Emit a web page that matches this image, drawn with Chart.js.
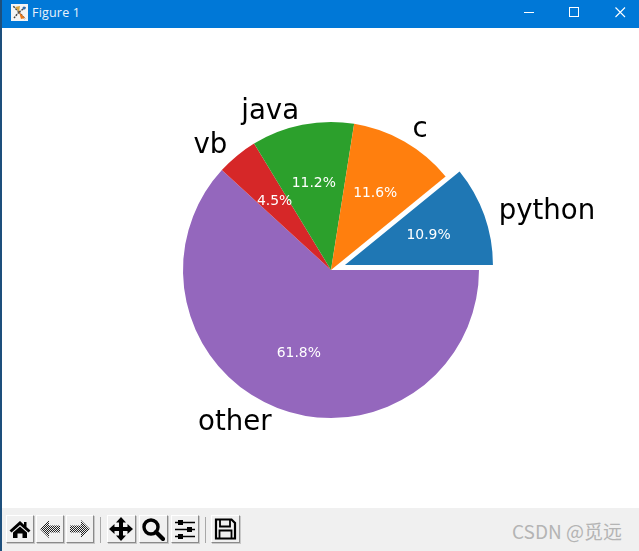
<!DOCTYPE html>
<html><head><meta charset="utf-8">
<script src="https://cdn.jsdelivr.net/npm/chart.js@4"></script>
<style>
html,body{margin:0;padding:0;width:639px;height:551px;overflow:hidden;background:#fff}
.abs{position:absolute}
#strip{left:0;top:0;width:2px;height:551px;background:#1d4f7c}
#title{left:0;top:0;width:639px;height:27.5px;background:#0078d7}
#ttext{left:32px;top:4px;color:#e8f2fb;font:12.5px/18px "Open Sans","Noto Sans",sans-serif;letter-spacing:.2px}
#toolbar{left:2px;top:508px;width:637px;height:43px;background:#f0f0f0}
.btn{position:absolute;top:515px;height:28px;box-sizing:border-box;background:#f0f0f0;border:1px solid;border-color:#fff #8a8a8a #8a8a8a #fff;box-shadow:1px 1px 0 #c8c8c8}
.btn svg{position:absolute;left:1px;top:1px;width:24px;height:24px}
.sep{position:absolute;top:517px;width:1px;height:26px;background:#a8a8a8}
#wm{left:512px;top:518px;color:#b4b4b4;font:19px/26px "Noto Sans CJK SC","Noto Sans",sans-serif;white-space:nowrap}
canvas{position:absolute;left:0;top:0}
</style></head><body>
<div id="title" class="abs"></div>
<svg class="abs" style="left:11px;top:4px" width="17" height="17" viewBox="0 0 17 17">
<rect width="17" height="17" fill="#f4f4f4"/><path d="M8 8L2 2M8 8L15 3M8 8L3 14M8 8L14 15" stroke="#444" stroke-width="1.5" stroke-dasharray="2 1"/><path d="M8 8L14 14L10 15Z" fill="#e8791c"/><path d="M8 8L4 3L9 2Z" fill="#d9a441"/><circle cx="13" cy="4" r="1.5" fill="#2b6cb0"/></svg>
<div id="ttext" class="abs">Figure 1</div>
<svg class="abs" style="left:500px;top:0" width="139" height="28" viewBox="0 0 139 28" fill="none" stroke="#fff">
<path d="M24 12.5H34" stroke-width="1"/><rect x="69.5" y="7.5" width="9" height="9" stroke-width="1"/><path d="M115.5 7.5L125 17M125 7.5L115.5 17" stroke-width="1.1"/></svg>
<div id="strip" class="abs"></div>
<div id="toolbar" class="abs"></div>
<svg width="0" height="0" style="position:absolute"><defs><pattern id="dither" width="2" height="2" patternUnits="userSpaceOnUse"><rect width="1" height="1" fill="#222"/><rect x="1" y="1" width="1" height="1" fill="#222"/></pattern></defs></svg>
<div class="btn" style="left:6px;width:28px"><svg viewBox="0 0 24 24"><path d="M12 4L1.5 13.5L3.5 15.5L12 8L20.5 15.5L22.5 13.5L18.5 10V5H16V7.8Z M5 15.5L12 9.5L19 15.5V21H14.5V16.5H9.5V21H5Z"/></svg></div>
<div class="btn" style="left:36px;width:28px"><svg viewBox="0 0 24 24"><path fill="url(#dither)" d="M11 3L2 12L11 21V15.5H22V8.5H11Z"/></svg></div>
<div class="btn" style="left:66px;width:28px"><svg viewBox="0 0 24 24"><path fill="url(#dither)" d="M13 3L22 12L13 21V15.5H2V8.5H13Z"/></svg></div>
<div class="sep" style="left:100px"></div>
<div class="btn" style="left:107px;width:29px"><svg viewBox="0 0 24 24"><path d="M12 0L17 5.5H14V10H18.5V7L24 12L18.5 17V14H14V18.5H17L12 24L7 18.5H10V14H5.5V17L0 12L5.5 7V10H10V5.5H7Z"/></svg></div>
<div class="btn" style="left:139px;width:29px"><svg viewBox="0 0 24 24"><circle cx="10" cy="10" r="7" fill="none" stroke="#000" stroke-width="3.4"/><path d="M15 15L22 22" stroke="#000" stroke-width="4.2" stroke-linecap="round"/></svg></div>
<div class="btn" style="left:171px;width:28px"><svg viewBox="0 0 24 24"><path d="M2 5.5H22M2 12.5H22M2 19.5H22" stroke="#000" stroke-width="1.6"/><rect x="5" y="3" width="5" height="5"/><rect x="14" y="10" width="5" height="5"/><rect x="5" y="17" width="5" height="5"/></svg></div>
<div class="sep" style="left:205px"></div>
<div class="btn" style="left:211px;width:29px"><svg viewBox="0 0 24 24"><path fill="none" stroke="#000" stroke-width="2.2" d="M3 2.5H18.5L22 6V21.5H3Z"/><path fill="none" stroke="#000" stroke-width="1.8" d="M7 3V9.5H17V3M6.5 21V13.5H18.5V21"/></svg></div>
<div id="wm" class="abs">CSDN @觅远</div>
<canvas id="c" width="639" height="551"></canvas>
<script>
// Clockwise from 3 o'clock, so the slices run the same way round as the reference.
const categories = ['other', 'vb', 'java', 'c', 'python'];
const shares = [61.8, 4.5, 11.2, 11.6, 10.9];
const sliceColors = ['#9467bd', '#d62728', '#2ca02c', '#ff7f0e', '#1f77b4'];
const explode = [0, 0, 0, 0, 14.8];

const FONT = '"DejaVu Sans"';
function centeredBaseline(ctx) {
  // Vertical centre of a text line measured as "lp", so labels sit on the line's middle.
  const m = ctx.measureText('lp');
  return (m.actualBoundingBoxAscent - m.actualBoundingBoxDescent) / 2;
}
const pieText = {
  id: 'pieText',
  afterDatasetUpdate(chart) {
    // Chart.js's own offset option also enlarges the slice, so move the exploded slice's centre instead.
    chart.getDatasetMeta(0).data.forEach((arc, i) => {
      const mid = (arc.startAngle + arc.endAngle) / 2;
      arc.x += Math.cos(mid) * explode[i];
      arc.y += Math.sin(mid) * explode[i];
    });
  },
  afterDatasetsDraw(chart) {
    const ctx = chart.ctx;
    chart.getDatasetMeta(0).data.forEach((arc, i) => {
      const mid = (arc.startAngle + arc.endAngle) / 2;
      const ux = Math.cos(mid), uy = Math.sin(mid);
      const R = arc.outerRadius;
      ctx.save();
      ctx.textBaseline = 'alphabetic';
      ctx.font = '27.6px ' + FONT;
      ctx.fillStyle = '#000';
      ctx.textAlign = ux > 0 ? 'left' : 'right';
      const nudge = ux > 0 ? 0.4 : -0.4;
      ctx.fillText(categories[i], arc.x + ux * R * 1.1 + nudge, arc.y + uy * R * 1.1 + centeredBaseline(ctx) + 0.3);
      ctx.font = '13.9px ' + FONT;
      ctx.fillStyle = '#fff';
      ctx.textAlign = 'center';
      ctx.fillText(shares[i].toFixed(1) + '%', arc.x + ux * R * 0.6, arc.y + uy * R * 0.6 + centeredBaseline(ctx));
      ctx.restore();
    });
  }
};
new Chart(document.getElementById('c'), {
  type: 'pie',
  data: {
    labels: categories,
    datasets: [{ data: shares, backgroundColor: sliceColors, borderWidth: 0 }]
  },
  options: {
    responsive: false,
    animation: false,
    events: [],
    rotation: 90,
    radius: 148,
    layout: { padding: { left: 23, bottom: 11 } },
    plugins: { legend: { display: false }, tooltip: { enabled: false }, title: { display: false } }
  },
  plugins: [pieText]
});
</script>
</body></html>
